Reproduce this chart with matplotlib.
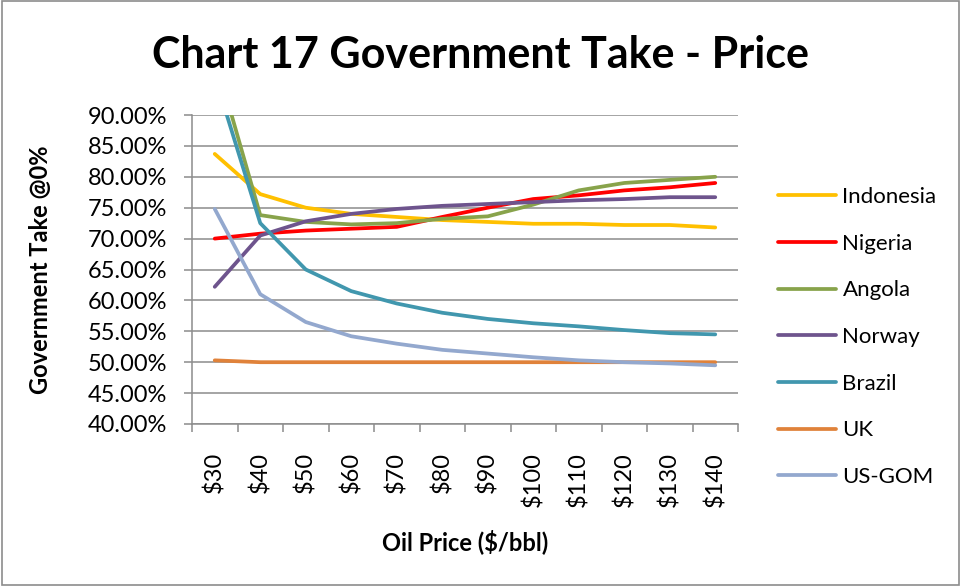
import matplotlib
matplotlib.use("Agg")
import matplotlib.pyplot as plt
from matplotlib.ticker import FuncFormatter, MultipleLocator
from matplotlib.patches import Rectangle

prices = ["$30", "$40", "$50", "$60", "$70", "$80", "$90", "$100", "$110", "$120", "$130", "$140"]

indonesia = [83.7, 77.2, 75.0, 74.0, 73.5, 73.0, 72.7, 72.4, 72.4, 72.2, 72.2, 71.8]
nigeria = [70.0, 70.8, 71.3, 71.6, 71.9, 73.5, 75.0, 76.4, 77.0, 77.8, 78.3, 79.0]
angola = [99.5, 73.8, 72.7, 72.3, 72.5, 73.2, 73.6, 75.5, 77.8, 79.0, 79.5, 80.0]
norway = [62.2, 70.5, 72.8, 74.0, 74.8, 75.3, 75.6, 75.9, 76.2, 76.4, 76.7, 76.7]
brazil = [96.3, 72.5, 65.0, 61.5, 59.5, 58.0, 57.0, 56.3, 55.8, 55.2, 54.7, 54.5]
uk = [50.3, 50.0, 50.0, 50.0, 50.0, 50.0, 50.0, 50.0, 50.0, 50.0, 50.0, 50.0]
us_gom = [74.8, 61.0, 56.5, 54.2, 53.0, 52.0, 51.4, 50.8, 50.3, 50.0, 49.8, 49.5]

series = [
    ("Indonesia", indonesia, "#FFC000"),
    ("Nigeria", nigeria, "#FF0000"),
    ("Angola", angola, "#88A34B"),
    ("Norway", norway, "#6E548D"),
    ("Brazil", brazil, "#4197AE"),
    ("UK", uk, "#E0823A"),
    ("US-GOM", us_gom, "#93A8CE"),
]

plt.rcParams["font.family"] = ["Lato", "DejaVu Sans"]

fig = plt.figure(figsize=(9.61, 5.86), dpi=100)
ax = fig.add_axes([192 / 961, 1 - 424 / 586, (738 - 192) / 961, (424 - 115) / 586])

x = range(len(prices))
for name, vals, col in series:
    ax.plot(x, vals, color=col, lw=2.7, label=name, solid_capstyle="round")

ax.set_ylim(40, 90)
ax.set_xlim(-0.5, len(prices) - 0.5)
ax.yaxis.set_major_locator(MultipleLocator(5))
ax.yaxis.set_major_formatter(FuncFormatter(lambda v, p: f"{v:.2f}%"))
ax.grid(axis="y", color="#8C8C8C", lw=1.1)
ax.set_axisbelow(True)

ax.set_xticks(list(x))
ax.set_xticklabels(prices, rotation=90)
ax.set_xticks([i - 0.5 for i in range(len(prices) + 1)], minor=True)
ax.tick_params(axis="x", which="major", length=0, pad=20, labelsize=17)
ax.tick_params(axis="x", which="minor", length=6, color="#8C8C8C", width=1.1)
ax.tick_params(axis="y", length=6, color="#8C8C8C", width=1.1, labelsize=17, pad=12)

for s in ["top", "right"]:
    ax.spines[s].set_visible(False)
for s in ["left", "bottom"]:
    ax.spines[s].set_color("#8C8C8C")
    ax.spines[s].set_linewidth(1.1)

ax.set_ylabel("Government Take @0%", fontsize=17, fontweight="bold")
ax.yaxis.set_label_coords(52 / 961, 1 - 270 / 586, transform=fig.transFigure)
ax.set_xlabel("Oil Price ($/bbl)", fontsize=17, fontweight="bold")
ax.xaxis.set_label_coords(465 / 961, 1 - 529 / 586, transform=fig.transFigure)

fig.suptitle("Chart 17 Government Take - Price", x=0.5, y=1 - 55 / 586, va="center",
             fontsize=31, fontweight="bold")

fig.legend(loc="center left", bbox_to_anchor=(758 / 961, 1 - 337 / 586), frameon=False,
           fontsize=16, handlelength=2.6, labelspacing=1.2, handletextpad=0.3)

fig.patches.append(Rectangle((0.002, 0.002), 0.996, 0.996, transform=fig.transFigure,
                             fill=False, edgecolor="#8C8C8C", lw=1.2))

fig.savefig("out.png", dpi=100)
